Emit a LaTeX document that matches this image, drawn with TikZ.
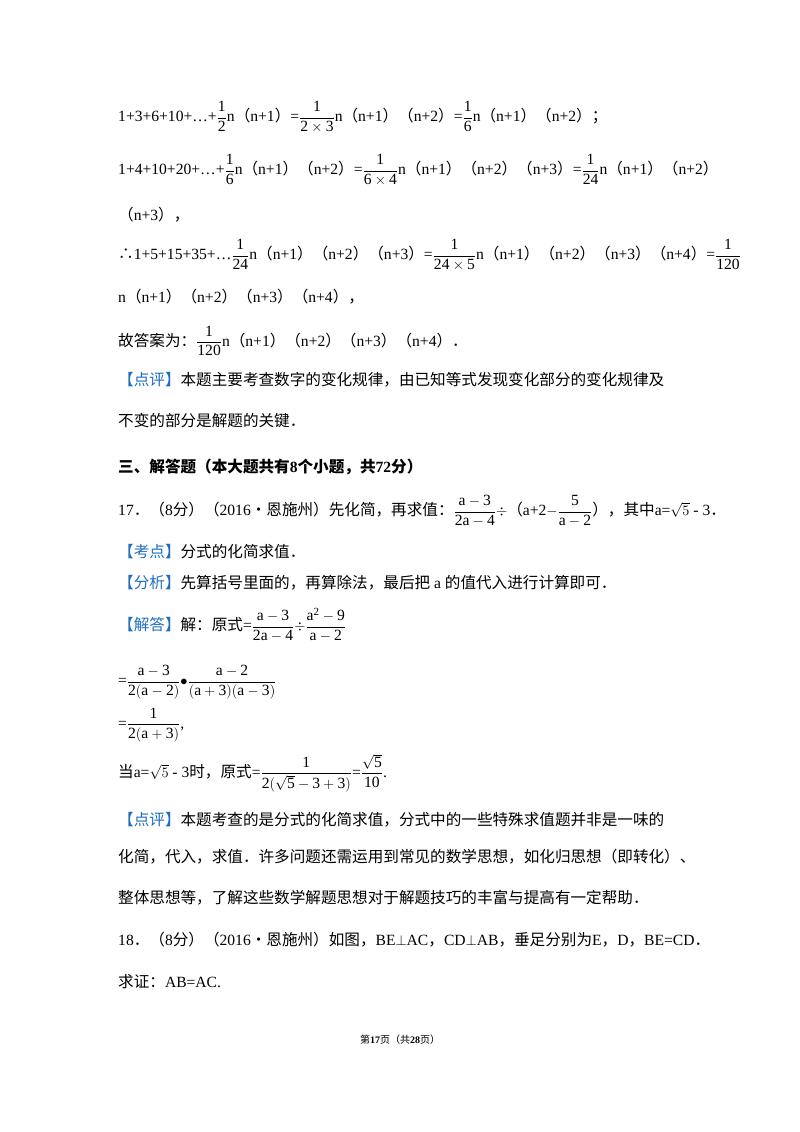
\documentclass[tikz,border=0pt]{standalone}
\usepackage{fontspec}
\setmainfont{Liberation Serif}
\newfontfamily\zhfont{Noto Sans CJK SC}
\newcommand\zh[1]{{\zhfont #1}}
\newcommand\fr[2]{$\displaystyle\frac{\mathrm{#1}}{\mathrm{#2}}$}
\definecolor{tag}{HTML}{1F6FC0}
\begin{document}
\begin{tikzpicture}[x=1pt,y=-1pt,
  ln/.style={anchor=west,inner sep=0pt,font=\fontsize{15.6}{18}\selectfont}]
\useasboundingbox[fill=white] (0,0) rectangle (800,1132);
\node[ln] (l1) at (118,117) {1+3+6+10+…+\fr{1}{2}n\zh{（}n+1\zh{）}=\fr{1}{2\times3}n\zh{（}n+1\zh{）（}n+2\zh{）}=\fr{1}{6}n\zh{（}n+1\zh{）（}n+2\zh{）；}};
\node[ln] (l2) at (118,170) {1+4+10+20+…+\fr{1}{6}n\zh{（}n+1\zh{）（}n+2\zh{）}=\fr{1}{6\times4}n\zh{（}n+1\zh{）（}n+2\zh{）（}n+3\zh{）}=\fr{1}{24}n\zh{（}n+1\zh{）（}n+2\zh{）}};
\node[ln] (l3) at (118,215) {\zh{（}n+3\zh{），}};
\node[ln] (l4) at (118,255) {\zh{∴}1+5+15+35+…\fr{1}{24}n\zh{（}n+1\zh{）（}n+2\zh{）（}n+3\zh{）}=\fr{1}{24\times5}n\zh{（}n+1\zh{）（}n+2\zh{）（}n+3\zh{）（}n+4\zh{）}=\fr{1}{120}};
\node[ln] (l5) at (118,297) {n\zh{（}n+1\zh{）（}n+2\zh{）（}n+3\zh{）（}n+4\zh{），}};
\node[ln] (l6) at (118,341) {\zh{故答案为：}\fr{1}{120}n\zh{（}n+1\zh{）（}n+2\zh{）（}n+3\zh{）（}n+4\zh{）．}};
\node[ln] (l7) at (118,380) {\zh{\textcolor{tag}{【点评】}本题主要考查数字的变化规律，由已知等式发现变化部分的变化规律及}};
\node[ln] (l8) at (118,421) {\zh{不变的部分是解题的关键．}};
\node[ln,font=\fontsize{15.6}{18}\selectfont\bfseries] (h) at (118,467) {\zh{\bfseries 三、解答题（本大题共有}8\zh{\bfseries 个小题，共}72\zh{\bfseries 分）}};
\node[ln] (q1) at (118,511) {17\zh{．（}8\zh{分）（}2016\zh{•恩施州）先化简，再求值：}\fr{a-3}{2a-4}$\div$\zh{（}a+2$-$\fr{5}{a-2}\zh{），其中}a=$\sqrt{5}$ - 3\zh{．}};
\node[ln] (k) at (118,552) {\zh{\textcolor{tag}{【考点】}分式的化简求值．}};
\node[ln] (f) at (118,583) {\zh{\textcolor{tag}{【分析】}先算括号里面的，再算除法，最后把} a \zh{的值代入进行计算即可．}};
\node[ln] (s1) at (118,625) {\zh{\textcolor{tag}{【解答】}解：原式}=\fr{a-3}{2a-4}$\div$\fr{a^2-9}{a-2}};
\node[ln] (s2) at (118,682) {=\fr{a-3}{2(a-2)}$\bullet$\fr{a-2}{(a+3)(a-3)}};
\node[ln] (s3) at (118,725) {=\fr{1}{2(a+3)},};
\node[ln] (s4) at (118,773) {\zh{当}a=$\sqrt{5}$ - 3\zh{时，原式}=\fr{1}{2(\sqrt{5}-3+3)}=\fr{\sqrt{5}}{10}.};
\node[ln] (p1) at (118,820) {\zh{\textcolor{tag}{【点评】}本题考查的是分式的化简求值，分式中的一些特殊求值题并非是一味的}};
\node[ln] (p2) at (118,857) {\zh{化简，代入，求值．许多问题还需运用到常见的数学思想，如化归思想（即转化）、}};
\node[ln] (p3) at (118,898) {\zh{整体思想等，了解这些数学解题思想对于解题技巧的丰富与提高有一定帮助．}};
\node[ln] (r1) at (118,940) {18\zh{．（}8\zh{分）（}2016\zh{•恩施州）如图，}BE$\perp$AC\zh{，}CD$\perp$AB\zh{，垂足分别为}E\zh{，}D\zh{，}BE=CD\zh{．}};
\node[ln] (r2) at (118,982) {\zh{求证：}AB=AC.};
\node[anchor=center,inner sep=0pt,font=\fontsize{10}{12}\selectfont] (ft) at (400,1040) {\zh{第}\textbf{17}\zh{页（共}\textbf{28}\zh{页）}};
\end{tikzpicture}
\end{document}
